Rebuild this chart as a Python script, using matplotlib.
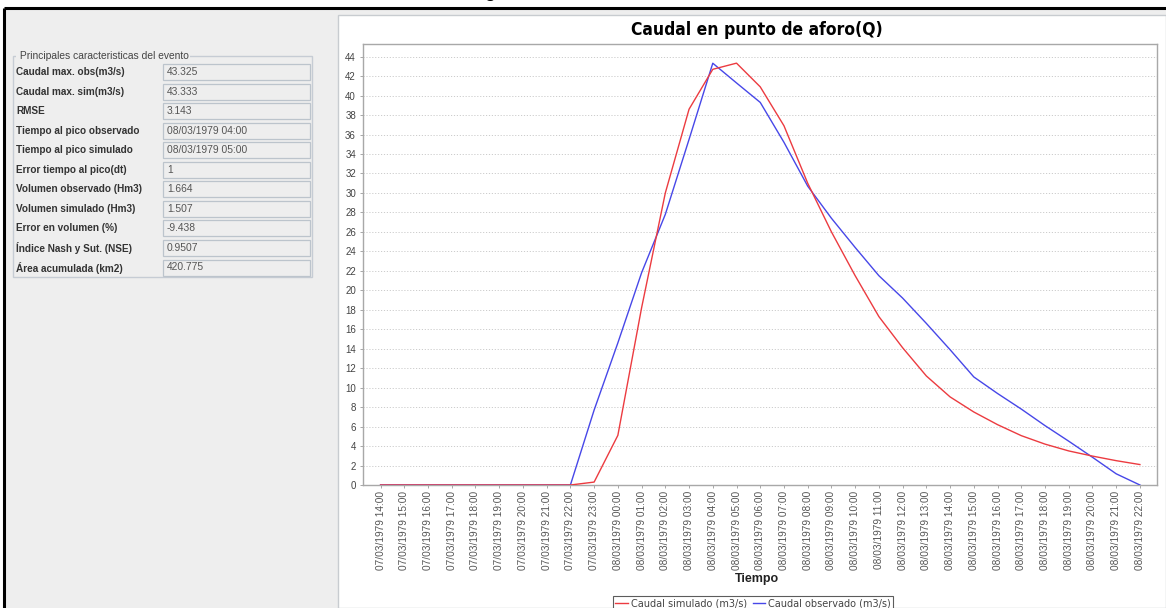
import matplotlib
matplotlib.use("Agg")
import matplotlib.pyplot as plt
from matplotlib.patches import Rectangle
from matplotlib.lines import Line2D
import pandas as pd

# ---------------- data ----------------
time_labels = list(pd.date_range("1979-03-07 14:00", "1979-03-08 22:00", freq="h").strftime("%d/%m/%Y %H:%M"))

caudal_simulado = [0, 0, 0, 0, 0, 0, 0, 0, 0, 0.3, 5.1, 18.2, 30.0, 38.6, 42.7, 43.333,
                   40.9, 36.9, 31.0, 26.0, 21.5, 17.3, 14.1, 11.2, 9.05, 7.5, 6.2, 5.07,
                   4.2, 3.5, 2.97, 2.5, 2.1]
caudal_observado = [0, 0, 0, 0, 0, 0, 0, 0, 0, 7.7, 14.6, 21.8, 27.8, 35.5, 43.325, 41.3,
                    39.3, 35.2, 30.7, 27.4, 24.4, 21.5, 19.2, 16.6, 13.9, 11.1, 9.4, 7.8,
                    6.1, 4.5, 2.85, 1.15, 0.0]

info_labels = ["Caudal max. obs(m3/s)", "Caudal max. sim(m3/s)", "RMSE",
               "Tiempo al pico observado", "Tiempo al pico simulado",
               "Error tiempo al pico(dt)", "Volumen observado (Hm3)",
               "Volumen simulado (Hm3)", "Error en volumen (%)",
               "Índice Nash y Sut. (NSE)", "Área acumulada (km2)"]
info_values = ["43.325", "43.333", "3.143", "08/03/1979 04:00", "08/03/1979 05:00",
               "1", "1.664", "1.507", "-9.438", "0.9507", "420.775"]

y_ticks = list(range(0, 46, 2))

# ---------------- figure ----------------
W, H = 1166, 608
fig = plt.figure(figsize=(W / 100, H / 100), dpi=100)
fig.patch.set_facecolor("white")

# background overlay in pixel coordinates
bg = fig.add_axes([0, 0, 1, 1], zorder=0)
bg.set_xlim(0, W)
bg.set_ylim(H, 0)
bg.axis("off")

bg.add_patch(Rectangle((4, 8), W - 4, H - 8, facecolor="#eeeeee", edgecolor="none"))
bg.plot([4, W], [8, 8], color="black", lw=2.2, solid_capstyle="butt")
bg.plot([4, 4], [8, H], color="black", lw=2.2, solid_capstyle="butt")
# chart panel
bg.add_patch(Rectangle((338, 15), W - 338, H - 15, facecolor="white", edgecolor="#c8ccd0", lw=1))

# clipped glyph above frame (as in the reference screenshot)
fig.text(490 / W, 1 + 3 / H, "g", fontsize=13, fontweight="bold", ha="center", va="baseline",
         family="Liberation Sans")

# group box
bg.add_patch(Rectangle((13, 56), 299, 221, facecolor="none", edgecolor="#c6ccd4", lw=1))
bg.text(17, 56, " Principales caracteristicas del evento", fontsize=7.4, color="#444444",
        va="center", ha="left", family="Liberation Sans",
        bbox=dict(facecolor="#eeeeee", edgecolor="none", pad=0.5))

row0 = 72
dy = 19.55
for i, (lab, val) in enumerate(zip(info_labels, info_values)):
    yc = row0 + i * dy
    bg.text(16, yc, lab, fontsize=7.2, fontweight="bold", color="#333333", va="center",
            ha="left", family="Liberation Sans")
    bg.add_patch(Rectangle((163, yc - 8), 147, 16, facecolor="#eeeeee", edgecolor="#bcc4cc", lw=0.9))
    bg.text(167, yc, val, fontsize=7.4, color="#555555", va="center", ha="left",
            family="Liberation Sans")

# ---------------- chart ----------------
left, right, top, bottom = 363, 1157, 44, 485
ax = fig.add_axes([left / W, 1 - bottom / H, (right - left) / W, (bottom - top) / H], zorder=2)
ax.set_facecolor("white")

x = list(range(len(time_labels)))
ax.plot(x, caudal_observado, color="#4747e8", lw=1.0, zorder=3)
ax.plot(x, caudal_simulado, color="#ec3b40", lw=1.0, zorder=4)

ax.set_xlim(-0.74, len(time_labels) - 1 + 0.72)
ax.set_ylim(0, 45.3)
ax.set_yticks(y_ticks)
ax.set_yticklabels([str(v) for v in y_ticks], fontsize=7, color="#444444", family="Liberation Sans")
ax.set_xticks(x)
ax.set_xticklabels(time_labels, rotation=90, fontsize=7.3, color="#555555", family="Liberation Sans")
ax.tick_params(axis="both", length=2, width=0.6, color="#999999", pad=2)
ax.tick_params(axis="y", pad=3)
ax.yaxis.grid(True, linestyle=(0, (1.2, 1.8)), color="#cccccc", lw=0.7)
ax.xaxis.grid(False)
for s in ax.spines.values():
    s.set_color("#a8a8a8")
    s.set_linewidth(1.0)

fig.text(757 / W, 1 - 30 / H, "Caudal en punto de aforo(Q)", fontsize=12.5, fontweight="bold",
         ha="center", va="center", family="DejaVu Sans", fontstretch="condensed")
fig.text(757 / W, 1 - 579 / H, "Tiempo", fontsize=9, fontweight="bold", ha="center",
         va="center", family="Liberation Sans", color="#222222")

handles = [Line2D([], [], color="#ec3b40", lw=1.0), Line2D([], [], color="#4747e8", lw=1.0)]
leg = fig.legend(handles, ["Caudal simulado (m3/s)", "Caudal observado (m3/s)"],
                 loc="upper center", bbox_to_anchor=(753 / W, 1 - 591 / H), ncol=2,
                 frameon=True, fancybox=False, borderpad=0.25,
                 handlelength=1.3, handletextpad=0.3, columnspacing=0.6,
                 prop={"family": "DejaVu Sans", "size": 7})
leg.get_frame().set_edgecolor("#333333")
leg.get_frame().set_linewidth(0.8)
for t in leg.get_texts():
    t.set_color("#444444")

fig.savefig("out.png", dpi=100)
